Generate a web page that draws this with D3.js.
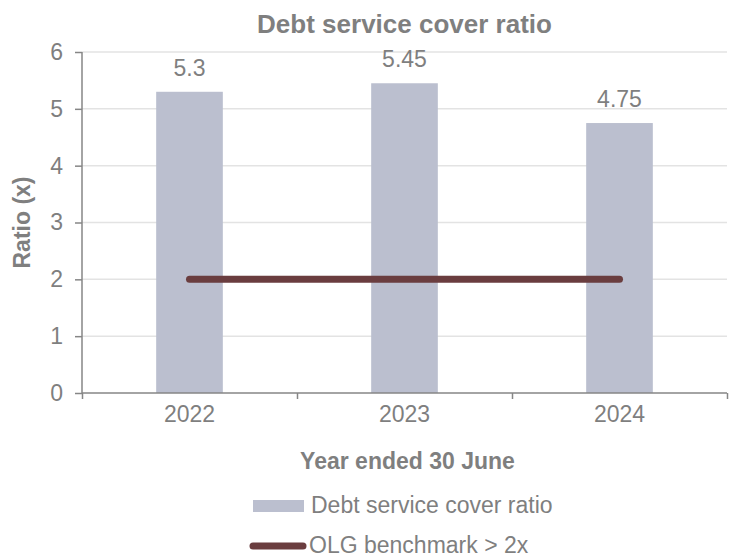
<!DOCTYPE html>
<html>
<head>
<meta charset="utf-8">
<script src="https://cdn.jsdelivr.net/npm/d3@7"></script>
<style>
  body { margin: 0; background: #fff; }
  text { font-family: "Liberation Sans", Arial, sans-serif; fill: #7f7f7f; }
</style>
</head>
<body>
<svg width="730" height="560"></svg>
<script>
var years = ["2022", "2023", "2024"],
    dscr = [5.3, 5.45, 4.75],
    benchmark = [2, 2, 2],
    yTicks = [0, 1, 2, 3, 4, 5, 6];

var svg = d3.select("svg"),
    m_left = 82, m_right = 727, m_top = 52, m_bottom = 393,
    bar_clr = "#bbbfcf", line_clr = "#6a3d3f",
    axis_clr = "#868686", grid_clr = "#e3e3e3",
    fs = "23px";

var x = d3.scaleBand().domain(years).range([m_left, m_right]).paddingInner(0.69).paddingOuter(0.345),
    xEdge = d3.scaleLinear().domain([0, years.length]).range([m_left, m_right]),
    y = d3.scaleLinear().domain([0, 6]).range([m_bottom, m_top]);

// gridlines
svg.append("g").selectAll("line").data(yTicks.slice(1)).join("line")
  .attr("x1", m_left).attr("x2", m_right)
  .attr("y1", d => y(d)).attr("y2", d => y(d))
  .style("stroke", grid_clr).style("stroke-width", 1.5);

// bars
svg.append("g").selectAll("rect").data(dscr).join("rect")
  .attr("x", (d, i) => x(years[i]))
  .attr("width", x.bandwidth())
  .attr("y", d => y(d))
  .attr("height", d => y(0) - y(d))
  .style("fill", bar_clr);

// y axis
var gy = svg.append("g").attr("transform", "translate(" + m_left + ",0)")
  .call(d3.axisLeft(y).tickValues(yTicks).tickSize(7).tickPadding(12).tickFormat(d3.format("d")));
gy.select(".domain").attr("d", "M0," + y(6) + "V" + y(0));

// x axis: ticks at category edges, labels at centers
var gx = svg.append("g").attr("transform", "translate(0," + m_bottom + ")")
  .call(d3.axisBottom(xEdge).tickValues(d3.range(years.length + 1)).tickSize(6).tickFormat(""));
gx.select(".domain").attr("d", "M" + m_left + ",0H" + m_right);
svg.append("g").attr("transform", "translate(0," + m_bottom + ")")
  .call(d3.axisBottom(x).tickSize(0).tickPadding(13))
  .call(g => g.select(".domain").remove());

svg.selectAll(".tick line, .domain").style("stroke", axis_clr).style("stroke-width", 1.5);
svg.selectAll(".tick text").style("font-size", fs).style("fill", "#7f7f7f")
  .style("font-family", "'Liberation Sans', Arial, sans-serif");

// benchmark line
var line = d3.line().x((d, i) => x(years[i]) + x.bandwidth() / 2).y(d => y(d));
svg.append("path").datum(benchmark).attr("d", line)
  .style("fill", "none").style("stroke", line_clr).style("stroke-width", 7).style("stroke-linecap", "round");

// data labels
svg.append("g").selectAll("text").data(dscr).join("text")
  .attr("x", (d, i) => x(years[i]) + x.bandwidth() / 2)
  .attr("y", d => y(d) - 16)
  .attr("text-anchor", "middle")
  .style("font-size", fs)
  .text(d => d);

// titles
svg.append("text").attr("x", (m_left + m_right) / 2).attr("y", 33).attr("text-anchor", "middle")
  .style("font-size", "26px").style("font-weight", "bold").text("Debt service cover ratio");
svg.append("text").attr("x", (m_left + m_right) / 2 + 3).attr("y", 469).attr("text-anchor", "middle")
  .style("font-size", fs).style("font-weight", "bold").text("Year ended 30 June");
svg.append("text").attr("transform", "translate(30," + (m_top + m_bottom) / 2 + ") rotate(-90)")
  .attr("text-anchor", "middle")
  .style("font-size", fs).style("font-weight", "bold").text("Ratio (x)");

// legend
var lg = svg.append("g");
lg.append("rect").attr("x", 253).attr("y", 500).attr("width", 51).attr("height", 12).style("fill", bar_clr);
lg.append("text").attr("x", 311).attr("y", 513).style("font-size", fs).text("Debt service cover ratio");
lg.append("line").attr("x1", 253).attr("x2", 303).attr("y1", 546).attr("y2", 546)
  .style("stroke", line_clr).style("stroke-width", 7).style("stroke-linecap", "round");
lg.append("text").attr("x", 309).attr("y", 553).style("font-size", fs).text("OLG benchmark > 2x");
</script>
</body>
</html>
